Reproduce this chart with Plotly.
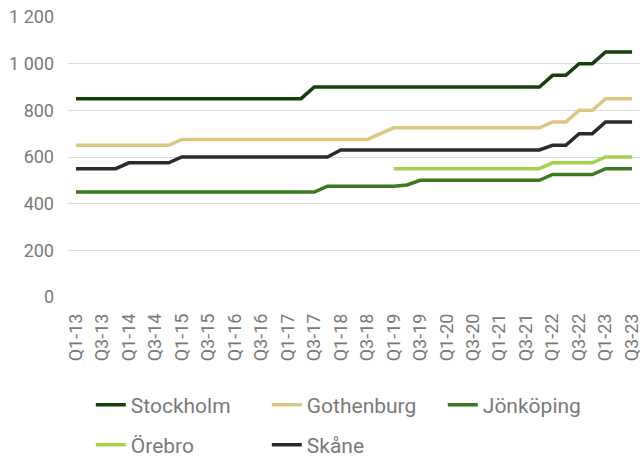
import plotly.graph_objects as go

quarters = [f"Q{q}-{y}" for y in range(13, 24) for q in range(1, 5)][:43]

stockholm = [850] * 18 + [900] * 18 + [950, 950, 1000, 1000, 1050, 1050, 1050]
gothenburg = [650] * 8 + [675] * 15 + [700] + [725] * 12 + [750, 750, 800, 800, 850, 850, 850]
jonkoping = [450] * 19 + [475] * 6 + [480] + [500] * 10 + [525, 525, 525, 525, 550, 550, 550]
orebro = [None] * 24 + [550] * 12 + [575, 575, 575, 575, 600, 600, 600]
skane = [550] * 4 + [575] * 4 + [600] * 12 + [630] * 16 + [650, 650, 700, 700, 750, 750, 750]

# name, values, colour, legend row
series = [
    ("Stockholm", stockholm, "#173f0c", "legend"),
    ("Gothenburg", gothenburg, "#dcc782", "legend"),
    ("Jönköping", jonkoping, "#3b7a1e", "legend"),
    ("Örebro", orebro, "#a5d24b", "legend2"),
    ("Skåne", skane, "#2b2b2b", "legend2"),
]

fig = go.Figure()
for name, vals, color, leg in series:
    fig.add_trace(go.Scatter(x=quarters, y=vals, name=name, mode="lines", legend=leg,
                             line=dict(color=color, width=3.5)))

legend_style = dict(orientation="h", xref="container", yref="container",
                    x=0.141, xanchor="left", yanchor="middle",
                    entrywidth=131, entrywidthmode="pixels",
                    font=dict(family="Roboto", size=21, color="#7a7a7a"))

fig.update_layout(
    width=644, height=456,
    margin=dict(l=68, r=4, t=17, b=159, autoexpand=False),
    plot_bgcolor="white", paper_bgcolor="white",
    font=dict(family="Roboto", size=18, color="#7a7a7a"),
    separators=", ",
    showlegend=True,
    legend=dict(legend_style, y=1 - 405 / 456),
    legend2=dict(legend_style, y=1 - 445 / 456),
    xaxis=dict(type="category", range=[-0.6, 42.6], showgrid=False,
               tickvals=quarters[::2], tickangle=-90, ticks="",
               ticklabelstandoff=12, automargin=False,
               showline=False, zeroline=False),
    yaxis=dict(range=[0, 1200], dtick=200, tickformat=",", showgrid=True,
               gridcolor="#d9d9d9", gridwidth=1, zeroline=False, ticks="",
               ticklabelstandoff=13, automargin=False, showline=False),
)

# the page's default body margin would push the figure 8px off
fig.write_html("out.html", config={"displayModeBar": False},
               post_script="document.body.style.margin = '0';")
